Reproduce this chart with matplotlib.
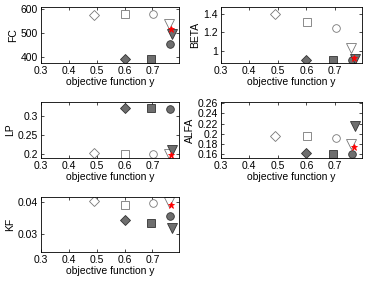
import matplotlib
matplotlib.use("Agg")

import matplotlib.pyplot as plt

plt.rcParams["font.family"] = ["Liberation Sans", "DejaVu Sans"]
plt.rcParams["font.size"] = 7.5

# x positions (objective function y) of each marker series
x_open_diamond = 0.49
x_open_square = 0.603
x_open_circle = 0.703
x_open_triangle = 0.758
x_fill_diamond = 0.60
x_fill_square = 0.694
x_fill_circle = 0.761
x_fill_triangle = 0.77
x_red = 0.768

params = ["FC", "BETA", "LP", "ALFA", "KF"]

# parameter values, order: open diamond, open square, open circle, open triangle,
# filled diamond, filled square, filled circle, filled triangle, red star
FC = [577, 580, 579, 541, 392, 394, 458, 496, 519]
BETA = [1.397, 1.315, 1.247, 1.036, 0.903, 0.903, 0.903, 0.91, 0.925]
LP = [0.204, 0.201, 0.201, 0.201, 0.32, 0.32, 0.318, 0.211, 0.198]
ALFA = [0.1947, 0.1947, 0.191, 0.179, 0.1617, 0.1595, 0.1605, 0.2147, 0.174]
KF = [0.0402, 0.0391, 0.0397, 0.040, 0.0342, 0.0332, 0.0354, 0.0317, 0.039]

values = {"FC": FC, "BETA": BETA, "LP": LP, "ALFA": ALFA, "KF": KF}

ylims = {
    "FC": (376, 610),
    "BETA": (0.867, 1.475),
    "LP": (0.19, 0.336),
    "ALFA": (0.152, 0.262),
    "KF": (0.0242, 0.0416),
}
yticks = {
    "FC": [400, 500, 600],
    "BETA": [1, 1.2, 1.4],
    "LP": [0.2, 0.25, 0.3],
    "ALFA": [0.16, 0.18, 0.2, 0.22, 0.24, 0.26],
    "KF": [0.03, 0.04],
}
yticklabels = {
    "FC": ["400", "500", "600"],
    "BETA": ["1", "1.2", "1.4"],
    "LP": ["0.2", "0.25", "0.3"],
    "ALFA": ["0.16", "0.18", "0.2", "0.22", "0.24", "0.26"],
    "KF": ["0.03", "0.04"],
}

xs = [x_open_diamond, x_open_square, x_open_circle, x_open_triangle,
      x_fill_diamond, x_fill_square, x_fill_circle, x_fill_triangle, x_red]

styles = [
    dict(marker="D", mfc="white", mec="#777777", ms=5),
    dict(marker="s", mfc="white", mec="#777777", ms=5.5),
    dict(marker="o", mfc="white", mec="#777777", ms=5.5),
    dict(marker="v", mfc="white", mec="#777777", ms=6.5),
    dict(marker="D", mfc="#6e6e6e", mec="#333333", ms=5),
    dict(marker="s", mfc="#6e6e6e", mec="#333333", ms=5.5),
    dict(marker="o", mfc="#6e6e6e", mec="#333333", ms=5.5),
    dict(marker="v", mfc="#6e6e6e", mec="#333333", ms=6.5),
    dict(marker="*", mfc="red", mec="red", ms=5),
]

positions = {
    "FC": [0.1115, 0.775, 0.379, 0.2],
    "BETA": [0.6047, 0.775, 0.387, 0.2],
    "LP": [0.1115, 0.4367, 0.379, 0.2],
    "ALFA": [0.6047, 0.4367, 0.387, 0.2],
    "KF": [0.1115, 0.103, 0.379, 0.197],
}

fig = plt.figure(figsize=(3.65, 2.81), dpi=100)

for p in params:
    ax = fig.add_axes(positions[p])
    for x, y, st in zip(xs, values[p], styles):
        ax.plot([x], [y], linestyle="none", mew=0.6, **st)
    ax.set_xlim(0.3, 0.795)
    ax.set_ylim(*ylims[p])
    ax.set_xticks([0.3, 0.4, 0.5, 0.6, 0.7])
    ax.set_xticklabels(["0.3", "0.4", "0.5", "0.6", "0.7"])
    ax.set_yticks(yticks[p])
    ax.set_yticklabels(yticklabels[p])
    ax.tick_params(direction="in", top=True, right=True, length=2, width=0.5, pad=2)
    for s in ax.spines.values():
        s.set_linewidth(0.6)
    ax.set_xlabel("objective function y", labelpad=1)
    ax.set_ylabel(p, labelpad=2)

fig.savefig("out.png", dpi=100)
